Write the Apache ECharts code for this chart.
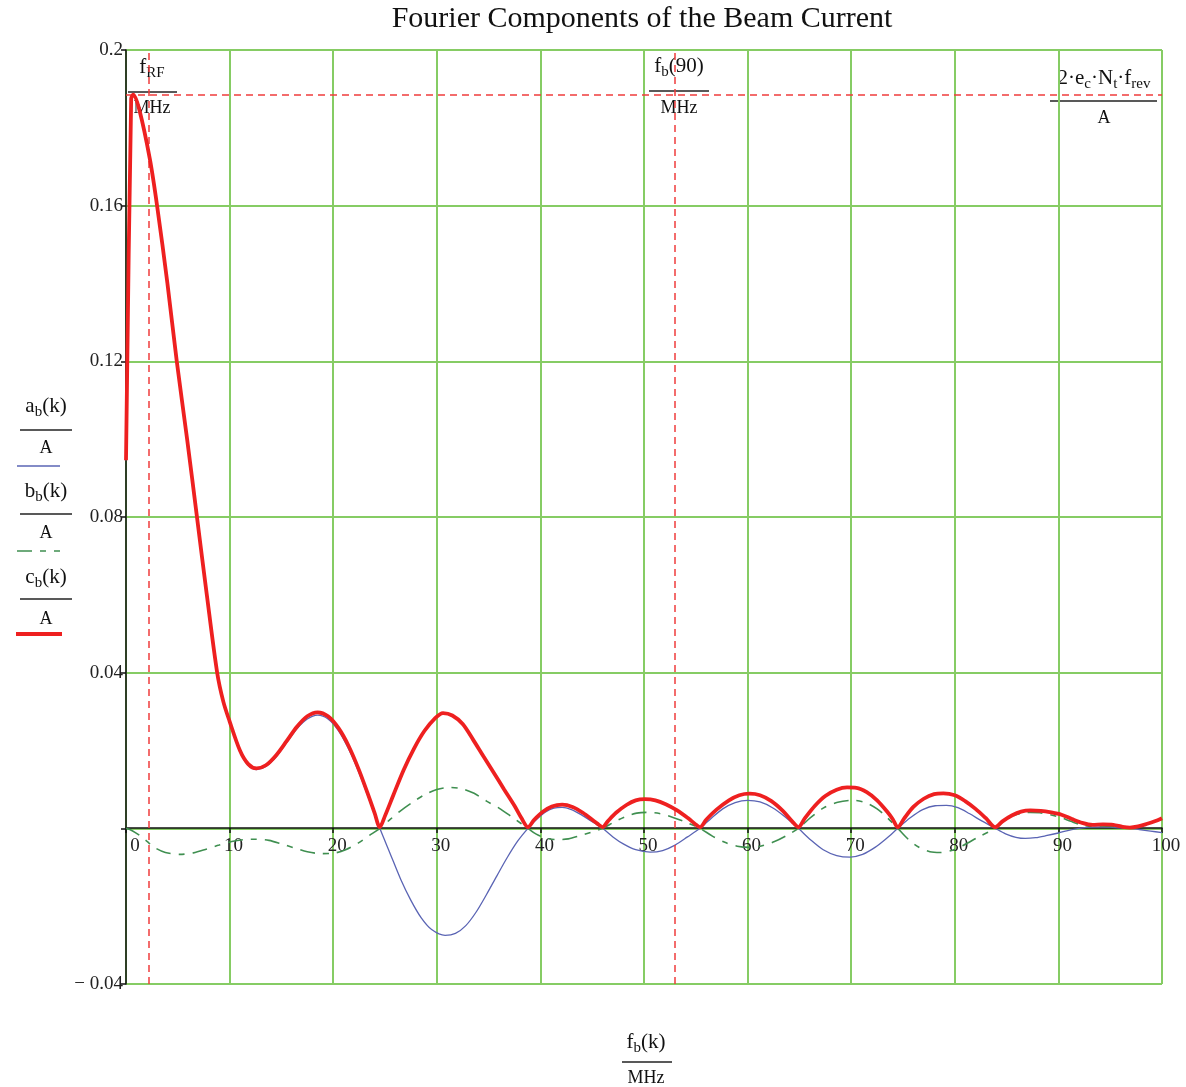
<!DOCTYPE html>
<html>
<head>
<meta charset="utf-8">
<script src="https://cdn.jsdelivr.net/npm/echarts@6.0.0/dist/echarts.min.js"></script>
<style>
  html, body { margin: 0; padding: 0; background: #fff; }
  #main { width: 1186px; height: 1087px; }
</style>
</head>
<body>
<div id="main"></div>
<script>
var SERIF = '"Liberation Serif", "DejaVu Serif", serif';

// axis ticks
var xTicks = [0, 10, 20, 30, 40, 50, 60, 70, 80, 90, 100];
var xTickText = ['0', '10', '20', '30', '40', '50', '60', '70', '80', '90', '100'];
var yTicks = [-0.04, 0, 0.04, 0.08, 0.12, 0.16, 0.2];
var yTickText = ['\u2212 0.04', '', '0.04', '0.08', '0.12', '0.16', '0.2'];

// c_b(k)/A  (red, thick)
var cX = [0, 0.5, 0.7, 1.3, 2.3, 3.0, 4.0, 4.9, 5.9, 6.85, 7.8, 8.8, 9.4, 10, 11, 11.8, 12.6, 13.5, 14.5, 15.5,
  16.5, 17.5, 18.5, 19.5, 20.5, 21.5, 22.5, 23.5, 24.0, 24.5, 25.0, 25.8, 26.8, 27.8, 28.8, 29.8, 30.6, 31.5, 32.5, 33.5,
  34.5, 35.5, 36.5, 37.5, 38.2, 38.8, 39.4, 40.2, 41.1, 42.1, 43.1, 44.1, 45.1, 45.5, 46, 46.5, 47.3, 48.3, 49.2, 50.1,
  51.1, 52.1, 53.2, 54.3, 54.9, 55.4, 56, 57, 58.2, 59.2, 60.2, 61.2, 62.3, 63.4, 64.3, 64.9, 65.5, 66.5, 67.5, 68.6,
  69.6, 70.5, 71.5, 72.5, 73.5, 74.0, 74.5, 75.1, 76, 77, 78, 78.9, 80, 81, 82, 83, 83.9, 84.6, 85.5, 86.4,
  87.3, 88.3, 89.3, 90.3, 91.3, 92.3, 93.3, 94.3, 95.3, 96.2, 96.9, 97.7, 98.5, 99.3, 100];
var cY = [0.0946, 0.1875, 0.1885, 0.1845, 0.1720, 0.1600, 0.1400, 0.1200, 0.1000, 0.0800, 0.0600, 0.0400, 0.0325, 0.0275, 0.0200, 0.0165, 0.0154, 0.0162, 0.0188, 0.0224,
  0.0261, 0.0288, 0.0298, 0.0288, 0.0258, 0.0211, 0.0149, 0.0077, 0.0039, 0.0003, 0.0032, 0.0085, 0.0150, 0.0205, 0.0250, 0.0282, 0.0296, 0.0290, 0.0268, 0.0228,
  0.0185, 0.0143, 0.0100, 0.0058, 0.0025, 0.0003, 0.0022, 0.0042, 0.0056, 0.0061, 0.0055, 0.0040, 0.0020, 0.0012, 0.0003, 0.0018, 0.0040, 0.0060, 0.0072, 0.0075,
  0.0072, 0.0062, 0.0046, 0.0025, 0.0012, 0.0003, 0.0022, 0.0048, 0.0072, 0.0085, 0.0089, 0.0085, 0.0070, 0.0045, 0.0018, 0.0003, 0.0025, 0.0058, 0.0083, 0.0099,
  0.0105, 0.0104, 0.0093, 0.0072, 0.0042, 0.0024, 0.0003, 0.0025, 0.0055, 0.0076, 0.0088, 0.0090, 0.0085, 0.0070, 0.0050, 0.0026, 0.0003, 0.0018, 0.0033, 0.0043,
  0.0046, 0.0045, 0.0041, 0.0035, 0.0024, 0.0014, 0.0009, 0.0010, 0.0009, 0.0004, 0.0002, 0.0005, 0.0011, 0.0018, 0.0026];

// a_b(k)/A  (blue, thin)
var aX = [0, 0.5, 0.7, 1.3, 2.3, 3.0, 4.0, 4.9, 5.9, 6.85, 7.8, 8.8, 9.4, 10, 11, 11.8, 12.6, 13.5, 14.5, 15.5,
  16.5, 17.5, 18.5, 19.5, 20.5, 21.5, 22.5, 23.5, 24.5, 25.5, 26.5, 27.5, 28.5, 29.5, 30.8, 31.8, 32.8, 33.8, 34.8, 35.8,
  36.8, 37.8, 38.8, 39.6, 40.5, 41.3, 42.1, 43, 44, 45, 46, 47, 48, 49.2, 50.6, 51.8, 53, 54.2, 55.4, 56.5,
  57.6, 58.8, 60, 61.2, 62.4, 63.6, 64.9, 66.1, 67.3, 68.6, 69.9, 71.1, 72.3, 73.4, 74.5, 75.7, 76.9, 78.1, 79.2, 80.3,
  81.4, 82.6, 83.9, 84.9, 85.9, 86.8, 87.8, 88.8, 90, 91, 92, 93, 94, 95, 96, 96.9, 97.8, 98.9, 100];
var aY = [0.0946, 0.1874, 0.1884, 0.1844, 0.1718, 0.1598, 0.1398, 0.1198, 0.0998, 0.0798, 0.0598, 0.0398, 0.0322, 0.0272, 0.0197, 0.0162, 0.0151, 0.0159, 0.0184, 0.0220,
  0.0256, 0.0281, 0.0291, 0.0281, 0.0251, 0.0203, 0.0142, 0.0072, 0, -0.0065, -0.0130, -0.0185, -0.0230, -0.0260, -0.0275, -0.0270, -0.0250, -0.0215, -0.0170, -0.0122,
  -0.0075, -0.0033, 0, 0.0022, 0.0042, 0.0052, 0.0054, 0.0048, 0.0034, 0.0017, 0, -0.0022, -0.0040, -0.0055, -0.0061, -0.0057, -0.0043, -0.0022, 0, 0.0026,
  0.0050, 0.0066, 0.0072, 0.0068, 0.0053, 0.0030, 0, -0.0030, -0.0055, -0.0070, -0.0074, -0.0067, -0.0049, -0.0026, 0, 0.0027, 0.0048, 0.0058, 0.0059, 0.0053,
  0.0038, 0.0019, 0, -0.0014, -0.0023, -0.0026, -0.0024, -0.0019, -0.0012, -0.0005, 0, 0.0003, 0.0004, 0.0003, 0.0001, 0, -0.0003, -0.0007, -0.0011];

// b_b(k)/A  (green, dash-dot)
var bX = [0, 0.6, 1.3, 2.0, 2.8, 3.8, 5.2, 6.5, 7.8, 9, 10.2, 11.4, 12.6, 13.8, 15, 16.2, 17.5, 18.8, 20, 21.2,
  22.4, 23.5, 24.5, 25.5, 26.5, 27.6, 28.8, 30, 31.2, 32.4, 33.6, 34.8, 36, 37.2, 38.1, 38.8, 39.6, 40.6, 41.6, 42.7,
  43.8, 44.9, 46, 47.1, 48.2, 49.3, 50.3, 51.5, 52.8, 54.1, 55.4, 56.6, 57.8, 59, 60.2, 61.4, 62.6, 63.8, 64.9, 66.1,
  67.3, 68.7, 70.2, 71.4, 72.5, 73.5, 74.5, 75.5, 76.5, 77.6, 78.6, 79.7, 80.8, 82.3, 83.9, 84.7, 85.6, 86.5, 87.3, 88.2,
  89.2, 90.2, 91.2, 92.2, 93.2, 94.2, 95.2, 96.2, 96.9, 97.8, 98.9, 100];
var bY = [0, -0.0006, -0.0018, -0.0033, -0.0050, -0.0062, -0.0067, -0.0063, -0.0053, -0.0043, -0.0034, -0.0029, -0.0028, -0.0031, -0.0040, -0.0050, -0.0060, -0.0065, -0.0064, -0.0055,
  -0.0038, -0.0018, 0, 0.0023, 0.0045, 0.0066, 0.0086, 0.0100, 0.0105, 0.0102, 0.0090, 0.0070, 0.0052, 0.0030, 0.0013, 0, -0.0015, -0.0026, -0.0029, -0.0027,
  -0.0019, -0.0010, 0, 0.0016, 0.0030, 0.0039, 0.0041, 0.0038, 0.0028, 0.0015, 0, -0.0020, -0.0036, -0.0046, -0.0049, -0.0045, -0.0034, -0.0018, 0, 0.0028,
  0.0052, 0.0067, 0.0072, 0.0066, 0.0050, 0.0027, 0, -0.0028, -0.0048, -0.0060, -0.0062, -0.0057, -0.0044, -0.0022, 0, 0.0018, 0.0032, 0.0039, 0.0041, 0.0040,
  0.0035, 0.0028, 0.0018, 0.0009, 0.0005, 0.0006, 0.0005, 0.0002, 0, 0.0006, 0.0015, 0.0023];

// red dashed markers: f_RF, f_b(90) and 2·e_c·N_t·f_rev
var markerX = [2.2, 53.0];
var markerY = [0.1886];

var GREEN = '#86cc64';
var BLUE = '#5a64b4';
var DGREEN = '#3f8f50';
var RED = '#ee2020';
var DASHDOT = [15, 8, 6, 8];
var PLOT_H = 1087 - 50 - 103;

function zip(xs, ys) {
  return xs.map(function(x, i) { return [x, ys[i]]; });
}

var measureCtx = document.createElement('canvas').getContext('2d');
function textWidth(s, size) {
  measureCtx.font = size + 'px ' + SERIF;
  return measureCtx.measureText(s).width;
}

// numerator with subscripts, parts = [[text, isSub], ...], cy = centre of the main glyphs
function num(cx, cy, parts, size) {
  size = size || 21;
  var subSize = Math.round(size * 0.72);
  var total = 0;
  var widths = parts.map(function(p) {
    var w = textWidth(p[0], p[1] ? subSize : size);
    total += w;
    return w;
  });
  var x = cx - total / 2;
  return parts.map(function(p, i) {
    var el = {
      type: 'text', x: x, y: p[1] ? cy + 6 : cy, silent: true,
      style: { text: p[0], fontFamily: SERIF, fontSize: p[1] ? subSize : size, fill: '#111',
        align: 'left', verticalAlign: 'middle', textAlign: 'left', textVerticalAlign: 'middle' }
    };
    x += widths[i];
    return el;
  });
}
function txt(cx, cy, s, size) {
  return {
    type: 'text', x: cx, y: cy, silent: true,
    style: { text: s, fontFamily: SERIF, fontSize: size || 18, fill: '#111',
      align: 'center', verticalAlign: 'middle', textAlign: 'center', textVerticalAlign: 'middle' }
  };
}
function bar(x1, x2, y, color, width, dash) {
  return {
    type: 'line', silent: true,
    shape: { x1: x1, y1: y, x2: x2, y2: y },
    style: { stroke: color || '#222', lineWidth: width || 1.5, lineDash: dash || null }
  };
}

var graphics = [].concat(
  [txt(642, 19, 'Fourier Components of the Beam Current', 30)],
  // left legend
  num(46, 406, [['a', 0], ['b', 1], ['(k)', 0]]),
  [bar(20, 72, 430), txt(46, 448, 'A'), bar(17, 60, 466, BLUE, 1.5)],
  num(46, 491, [['b', 0], ['b', 1], ['(k)', 0]]),
  [bar(20, 72, 514), txt(46, 533, 'A'), bar(17, 60, 551, DGREEN, 1.6, DASHDOT)],
  num(46, 577, [['c', 0], ['b', 1], ['(k)', 0]]),
  [bar(20, 72, 599), txt(46, 619, 'A'), bar(16, 62, 634, RED, 4)],
  // marker labels
  num(152, 67, [['f', 0], ['RF', 1]]),
  [bar(128, 177, 92), txt(152, 108, 'MHz')],
  num(679, 66, [['f', 0], ['b', 1], ['(90)', 0]]),
  [bar(649, 709, 91), txt(679, 108, 'MHz')],
  num(1104, 78, [['2\u00b7e', 0], ['c', 1], ['\u00b7N', 0], ['t', 1], ['\u00b7f', 0], ['rev', 1]]),
  [bar(1050, 1157, 101), txt(1104, 118, 'A')],
  // x axis name
  num(646, 1042, [['f', 0], ['b', 1], ['(k)', 0]]),
  [bar(622, 672, 1062), txt(646, 1078, 'MHz')]
);

var yMin = yTicks[0], yMax = yTicks[yTicks.length - 1];
var chart = echarts.init(document.getElementById('main'), null, { renderer: 'canvas' });
var option = {
  animation: false,
  backgroundColor: '#fff',
  grid: { left: 126, right: 24, top: 50, bottom: 103, containLabel: false },
  xAxis: {
    type: 'value', min: xTicks[0], max: xTicks[xTicks.length - 1], interval: 10,
    // put the axis (line, ticks, labels) on y = 0
    axisLine: { onZero: false, lineStyle: { color: '#111', width: 1.5 } },
    offset: -Math.round((0 - yMin) / (yMax - yMin) * PLOT_H),
    axisTick: { show: true, length: 5, lineStyle: { color: '#111', width: 1.5 } },
    axisLabel: {
      fontFamily: SERIF, fontSize: 19, color: '#222', margin: 9, padding: [0, 0, 0, 8],
      formatter: function(v) {
        var s = xTickText[Math.round(v / 10)];
        return v === 0 ? '{z|' + s + '}' : s;
      },
      rich: { z: { fontFamily: SERIF, fontSize: 19, color: '#222', padding: [0, 0, 0, 10] } }
    },
    splitLine: { show: true, lineStyle: { color: GREEN, width: 2 } }
  },
  yAxis: {
    type: 'value', min: yMin, max: yMax, interval: 0.04,
    axisLine: { show: true, onZero: false, lineStyle: { color: '#111', width: 1.5 } },
    axisTick: { show: true, length: 5, lineStyle: { color: '#111', width: 1.5 } },
    axisLabel: {
      fontFamily: SERIF, fontSize: 19, color: '#222', margin: 3,
      formatter: function(v) { return yTickText[Math.round((v - yMin) / 0.04)]; }
    },
    splitLine: { show: true, lineStyle: { color: GREEN, width: 2 } }
  },
  series: [
    {
      name: 'a', type: 'line', data: zip(aX, aY), showSymbol: false, smooth: 0.3,
      lineStyle: { color: BLUE, width: 1.3 }, z: 3
    },
    {
      name: 'b', type: 'line', data: zip(bX, bY), showSymbol: false, smooth: 0.3,
      lineStyle: { color: DGREEN, width: 1.6, type: DASHDOT }, z: 4
    },
    {
      name: 'c', type: 'line', data: zip(cX, cY), showSymbol: false, smooth: 0.3,
      lineStyle: { color: RED, width: 3.8 }, z: 5,
      markLine: {
        silent: true, precision: 4, symbol: ['none', 'none'], label: { show: false },
        lineStyle: { color: '#f03c3c', width: 1.5, type: [7, 5] },
        data: markerX.map(function(x) { return { xAxis: x }; })
          .concat(markerY.map(function(y) { return { yAxis: y }; }))
      }
    }
  ],
  graphic: graphics
};
chart.setOption(option);
</script>
</body>
</html>
